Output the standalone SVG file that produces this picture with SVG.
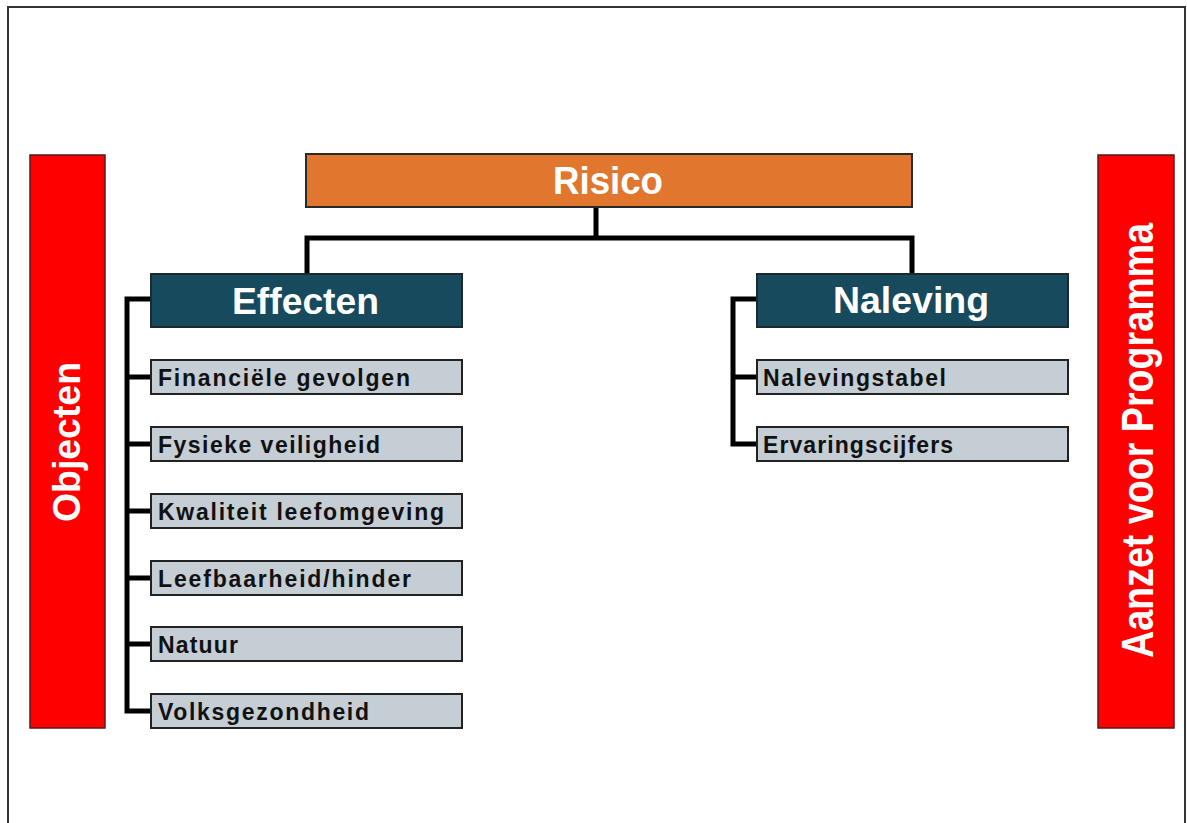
<svg xmlns="http://www.w3.org/2000/svg" width="1187" height="823" viewBox="0 0 1187 823">
<style>
.frame{fill:#fff;stroke:#333;stroke-width:2}
.side{fill:#ff0000;stroke:#5a1a1a;stroke-width:1.5}
.top{fill:#e1772e;stroke:#2a2a2a;stroke-width:2}
.head{fill:#174a5d;stroke:#1c2a30;stroke-width:2}
.item{fill:#c4ced4;stroke:#222;stroke-width:2}
.conn{fill:none;stroke:#000;stroke-width:5;stroke-linejoin:miter}
text{font-family:"Liberation Sans",Arial,sans-serif;font-weight:bold}
.wt{fill:#fff}
.it{fill:#111;font-size:23px}
</style>
<rect class="frame" x="8" y="7" width="1177" height="840"/>
<g id="connectors">
<path class="conn" d="M596 207 V238 M307 273 V238 H912 V273"/>
<path class="conn" d="M151 299 H127 V711 H151 M127 377 H151 M127 444 H151 M127 511 H151 M127 578 H151 M127 644 H151"/>
<path class="conn" d="M757 299 H733 V444 H757 M733 377 H757"/>
</g>
<g id="objecten">
<rect class="side" x="30" y="155" width="75" height="573"/>
<text class="wt" transform="translate(80 442) rotate(-90)" text-anchor="middle" font-size="39" textLength="160" lengthAdjust="spacingAndGlyphs">Objecten</text>
</g>
<g id="aanzet">
<rect class="side" x="1098" y="155" width="76" height="573"/>
<text class="wt" transform="translate(1153 440.5) rotate(-90)" text-anchor="middle" font-size="44" textLength="435" lengthAdjust="spacingAndGlyphs">Aanzet voor Programma</text>
</g>
<g id="risico">
<rect class="top" x="306" y="154" width="606" height="53"/>
<text class="wt" x="553" y="194" font-size="38" textLength="110" lengthAdjust="spacingAndGlyphs">Risico</text>
</g>
<g id="effecten">
<rect class="head" x="151" y="274" width="311" height="53"/>
<text class="wt" x="232" y="314" font-size="36" textLength="147" lengthAdjust="spacingAndGlyphs">Effecten</text>
</g>
<g id="naleving">
<rect class="head" x="757" y="274" width="311" height="53"/>
<text class="wt" x="833" y="313" font-size="36" textLength="156" lengthAdjust="spacingAndGlyphs">Naleving</text>
</g>
<g id="financiele">
<rect class="item" x="151" y="360" width="311" height="34"/>
<text class="it" x="158" y="386" textLength="252" lengthAdjust="spacing">Financiële gevolgen</text>
</g>
<g id="fysieke">
<rect class="item" x="151" y="427" width="311" height="34"/>
<text class="it" x="158" y="453" textLength="222" lengthAdjust="spacing">Fysieke veiligheid</text>
</g>
<g id="kwaliteit">
<rect class="item" x="151" y="494" width="311" height="34"/>
<text class="it" x="158" y="520" textLength="286" lengthAdjust="spacing">Kwaliteit leefomgeving</text>
</g>
<g id="leefbaarheid">
<rect class="item" x="151" y="561" width="311" height="34"/>
<text class="it" x="158" y="587" textLength="253" lengthAdjust="spacing">Leefbaarheid/hinder</text>
</g>
<g id="natuur">
<rect class="item" x="151" y="627" width="311" height="34"/>
<text class="it" x="158" y="653" textLength="80" lengthAdjust="spacing">Natuur</text>
</g>
<g id="volksgezondheid">
<rect class="item" x="151" y="694" width="311" height="34"/>
<text class="it" x="158" y="720" textLength="211" lengthAdjust="spacing">Volksgezondheid</text>
</g>
<g id="nalevingstabel">
<rect class="item" x="757" y="360" width="311" height="34"/>
<text class="it" x="763" y="386" textLength="183" lengthAdjust="spacing">Nalevingstabel</text>
</g>
<g id="ervaringscijfers">
<rect class="item" x="757" y="427" width="311" height="34"/>
<text class="it" x="763" y="453" textLength="190" lengthAdjust="spacing">Ervaringscijfers</text>
</g>
</svg>
